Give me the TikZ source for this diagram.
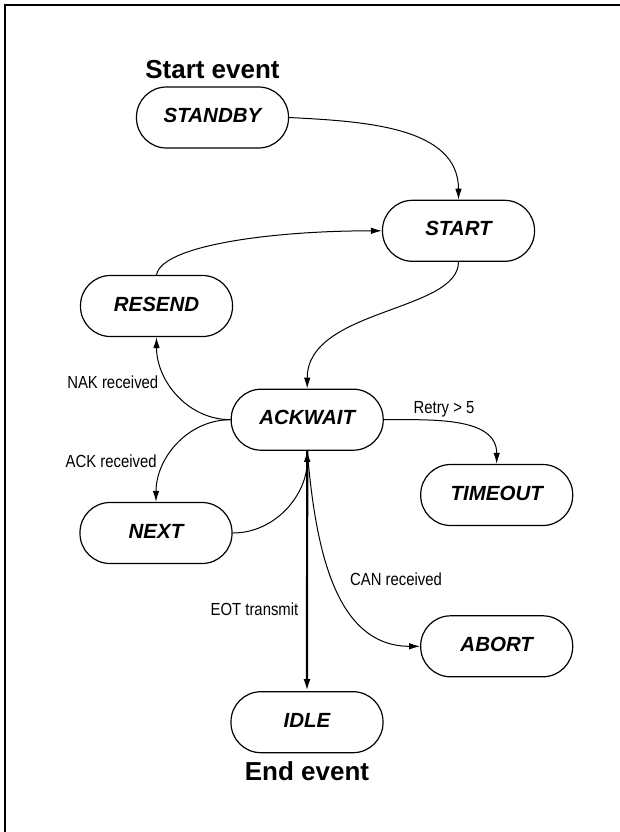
\documentclass[tikz,border=0pt]{standalone}
\usepackage{fontspec}
\setmainfont{Liberation Sans}
\newfontfamily\narrowsans[FakeStretch=0.85]{Liberation Sans}
\usetikzlibrary{arrows.meta}

\begin{document}
\begin{tikzpicture}[x=1pt, y=-1pt, >={Latex[length=11pt,width=6.5pt]}]

% Define the node styles
\tikzstyle{state}=[rectangle, draw, line width=1.2pt, rounded corners=30pt, minimum width=152pt, minimum height=61pt, inner sep=0pt, text depth=4pt, font=\fontsize{20.5}{24}\selectfont\bfseries\itshape]
\tikzstyle{event}=[anchor=base, inner sep=0pt, font=\fontsize{26}{30}\selectfont\bfseries]
\tikzstyle{cond}=[anchor=base, inner sep=0pt, font=\narrowsans\fontsize{17.5}{20}\selectfont]

% Page and frame (cut off at the right and bottom)
\useasboundingbox (0,0) rectangle (619,832);
\draw[line width=2pt] (5,900) -- (5,5) -- (700,5);

% Define the nodes
\node[state] (standby) at (212.5,117.5) {STANDBY};
\node[state] (start) at (458.5,230.8) {START};
\node[state] (resend) at (156.5,306) {RESEND};
\node[state] (ackwait) at (307.2,419.7) {ACKWAIT};
\node[state] (timeout) at (496.7,495) {TIMEOUT};
\node[state] (next) at (156,533) {NEXT};
\node[state] (abort) at (496.7,646.3) {ABORT};
\node[state] (idle) at (307,722.2) {IDLE};

\node[event] (startev) at (212.5,78.3) {Start event};
\node[event] (endev) at (307,780.7) {End event};

\node[cond] (nak) at (112.8,388.3) {NAK received};
\node[cond] (ack) at (111.2,467) {ACK received};
\node[cond] (retry) at (444,413) {Retry > 5};
\node[cond] (can) at (396,585) {CAN received};
\node[cond] (eot) at (254.5,615) {EOT transmit};

% Add the edges
\path[->, line width=1pt]
  (standby.east) edge[out=-3, in=90] (start.north)
  (resend.north) edge[out=80, in=180, out distance=30pt, in distance=110pt] (start.west)
  (start.south) edge[out=-90, in=90, out distance=50pt, in distance=80pt] (ackwait.north)
  (ackwait.west) edge[out=180, in=-90] (resend.south)
  (ackwait.west) edge[out=180, in=90] (next.north)
  (ackwait.east) edge[out=0, in=90] (timeout.north)
  (next.east) edge[out=0, in=-90] (ackwait.south)
  (ackwait.south) edge[out=-85, in=180] (abort.west);
\draw[-{Latex[length=12pt,width=7pt]}, line width=2.2pt] (ackwait.south) -- (idle.north);

\end{tikzpicture}
\end{document}
